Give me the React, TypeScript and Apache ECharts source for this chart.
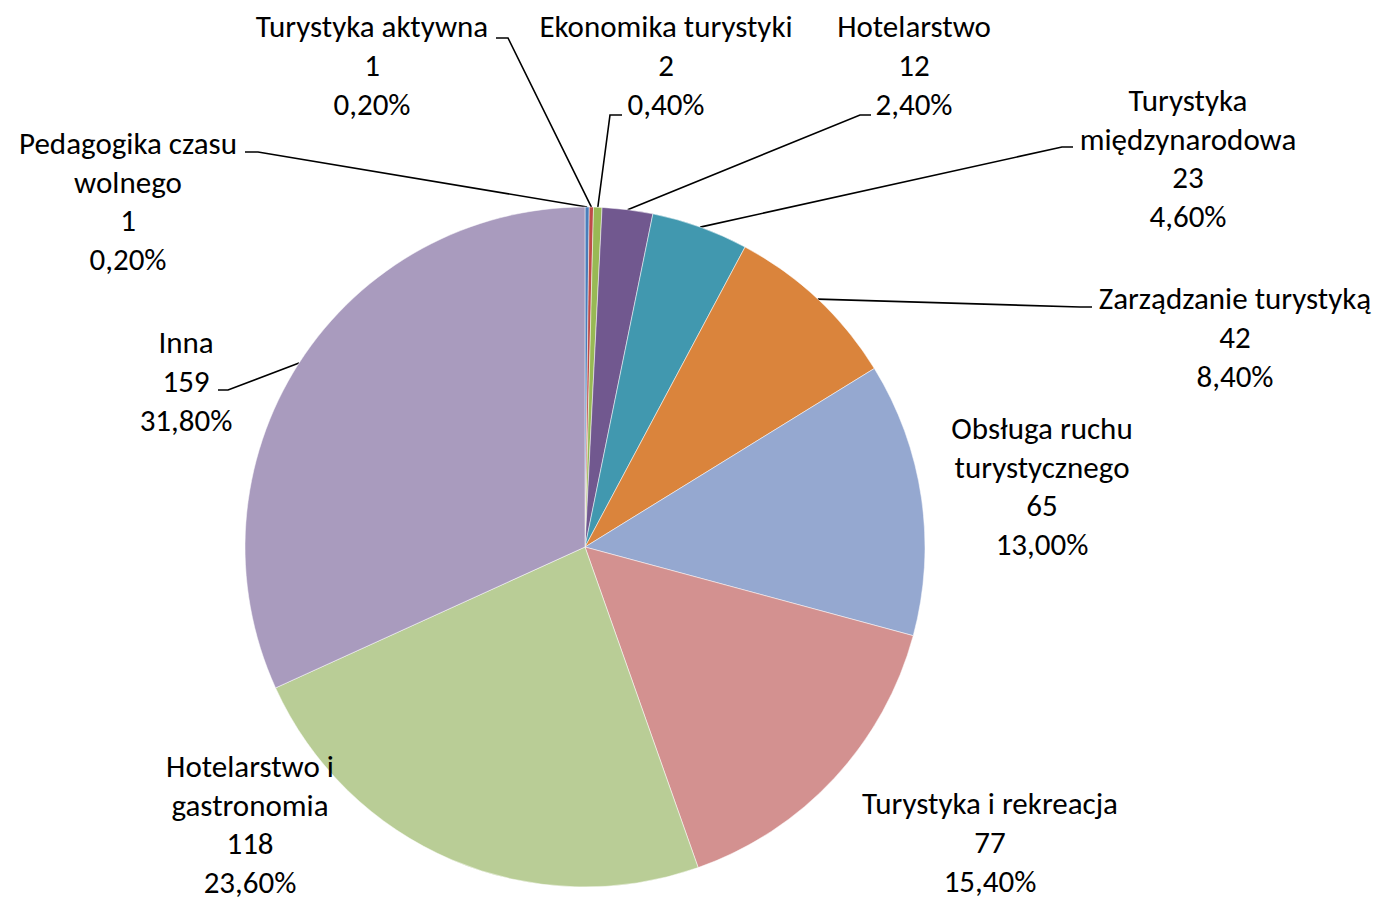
import React, { useEffect, useRef } from "react";
import * as echarts from "echarts";

const categories = [
  "Pedagogika czasu\nwolnego",
  "Turystyka aktywna",
  "Ekonomika turystyki",
  "Hotelarstwo",
  "Turystyka\nmiędzynarodowa",
  "Zarządzanie turystyką",
  "Obsługa ruchu\nturystycznego",
  "Turystyka i rekreacja",
  "Hotelarstwo i\ngastronomia",
  "Inna",
];

const values = [1, 1, 2, 12, 23, 42, 65, 77, 118, 159];

const colors = [
  "#4A7EBB",
  "#BE4B48",
  "#98B954",
  "#71588F",
  "#4198AF",
  "#DA843C",
  "#95A8D0",
  "#D39190",
  "#B9CD96",
  "#A99BBE",
];

// label block centre [x, y]; leader elbow and end points (null = no leader)
const labelCenters: [number, number][] = [
  [128, 201],
  [372, 65],
  [666, 65],
  [914, 65],
  [1188, 158],
  [1235, 337],
  [1042, 486],
  [990, 842],
  [250, 824],
  [186, 381],
];

const leaderTicks: ([number, number][] | null)[] = [
  [[258, 152], [245, 152]],
  [[508, 38], [496, 38]],
  [[610, 115], [622, 115]],
  [[860, 115], [871, 115]],
  [[1062, 147], [1073, 147]],
  [[1080, 307], [1092, 307]],
  null,
  null,
  null,
  [[228, 390], [218, 390]],
];

export default function App() {
  const ref = useRef<HTMLDivElement>(null);
  useEffect(() => {
    if (!ref.current) return;
    const chart = echarts.init(ref.current, undefined, { renderer: "svg" });
    chart.setOption({
      animation: false,
      backgroundColor: "#ffffff",
      series: [
        {
          type: "pie",
          center: [585, 547],
          radius: 340,
          startAngle: 90,
          clockwise: true,
          avoidLabelOverlap: false,
          data: categories.map((name, i) => ({
            name,
            value: values[i],
            itemStyle: { color: colors[i] },
            labelLine: { show: leaderTicks[i] !== null },
          })),
          itemStyle: { borderColor: "#ffffff", borderWidth: 0.5 },
          label: {
            show: true,
            position: "outside",
            formatter: (p: any) =>
              `${p.name}\n${p.value}\n${p.percent.toFixed(2).replace(".", ",")}%`,
            fontFamily: "Carlito, Lato, sans-serif",
            fontSize: 31,
            lineHeight: 38.7,
            color: "#000000",
            align: "center",
            verticalAlign: "middle",
          },
          labelLine: {
            show: true,
            lineStyle: { color: "#000000", width: 1.6 },
          },
          labelLayout: (params: any) => {
            const i = params.dataIndex;
            const [cx, cy] = labelCenters[i];
            const res: any = {
              x: cx,
              y: cy,
              align: "center",
              verticalAlign: "middle",
              hideOverlap: false,
              moveOverlap: null,
            };
            const t = leaderTicks[i];
            if (t && params.labelLinePoints) {
              res.labelLinePoints = [params.labelLinePoints[0], t[0], t[1]];
            }
            return res;
          },
        },
      ],
    });
    return () => chart.dispose();
  }, []);
  return (
    <div
      ref={ref}
      style={{ position: "absolute", left: 0, top: 0, width: 1380, height: 901 }}
    />
  );
}
